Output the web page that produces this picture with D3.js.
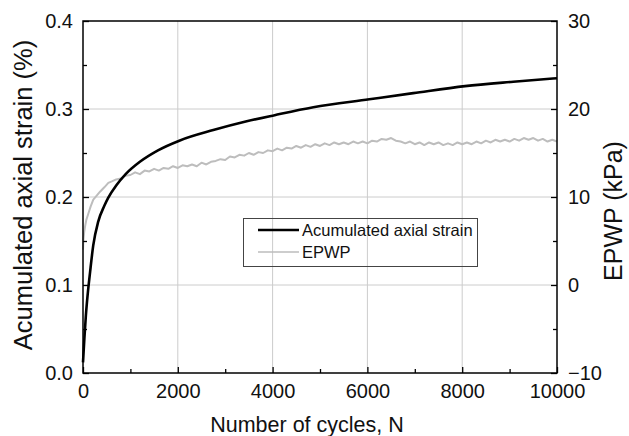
<!DOCTYPE html>
<html>
<head>
<meta charset="utf-8">
<script src="https://cdn.jsdelivr.net/npm/d3@7"></script>
<style>
  html, body { margin: 0; padding: 0; background: #fff; }
  svg { display: block; font-family: "Liberation Sans", Arial, sans-serif; }
</style>
</head>
<body>
<svg id="chart" width="629" height="436"></svg>
<script>
// ---- Data ----
const strainN = [0, 30, 60, 100, 150, 216, 321, 450, 531, 700, 900, 1200, 1582, 2032, 2749, 3454, 4044, 4859, 6040, 6968, 8059, 9078, 10000];
const strainValues = [0.012, 0.040, 0.065, 0.090, 0.115, 0.145, 0.172, 0.190, 0.199, 0.213, 0.226, 0.240, 0.253, 0.264, 0.276, 0.286, 0.293, 0.302, 0.311, 0.318, 0.326, 0.331, 0.335];

const epwpN = [0, 10, 25, 42, 70, 112, 160, 217, 280, 359, 450, 534, 620, 700, 800, 886,
  1000, 1100, 1200, 1300, 1400, 1500, 1600, 1700, 1800, 1900,
  2000, 2100, 2200, 2300, 2400, 2500, 2600, 2700, 2800, 2900,
  3000, 3100, 3200, 3300, 3400, 3500, 3600, 3700, 3800, 3900,
  4000, 4100, 4200, 4300, 4400, 4500, 4600, 4700, 4800, 4900,
  5000, 5100, 5200, 5300, 5400, 5500, 5600, 5700, 5800, 5900,
  6000, 6100, 6200, 6300, 6400, 6500, 6600, 6700, 6800, 6900,
  7000, 7100, 7200, 7300, 7400, 7500, 7600, 7700, 7800, 7900,
  8000, 8100, 8200, 8300, 8400, 8500, 8600, 8700, 8800, 8900,
  9000, 9100, 9200, 9300, 9400, 9500, 9600, 9700, 9800, 9900, 10000];
const epwpValues = [4.0, 5.2, 6.0, 6.6, 7.4, 8.1, 8.9, 9.7, 10.1, 10.6, 11.1, 11.6, 11.8, 12.0, 12.1, 12.4,
  12.5, 12.8, 12.6, 13.0, 12.9, 13.2, 13.0, 13.3, 13.2, 13.5,
  13.3, 13.6, 13.5, 13.7, 13.5, 13.9, 13.7, 14.0, 14.1, 14.3,
  14.2, 14.6, 14.5, 14.8, 14.7, 15.0, 14.8, 15.1, 15.0, 15.3,
  15.2, 15.5, 15.3, 15.6, 15.5, 15.8, 15.6, 15.9, 15.7, 16.0,
  15.8, 16.1, 15.9, 16.2, 16.0, 16.2, 16.0, 16.3, 16.1, 16.3,
  16.1, 16.4, 16.3, 16.6, 16.5, 16.7, 16.4, 16.3, 16.1, 16.3,
  16.0, 16.2, 15.9, 16.2, 16.0, 16.2, 15.9, 16.1, 15.9, 16.2,
  16.0, 16.2, 16.0, 16.3, 16.1, 16.4, 16.2, 16.5, 16.3, 16.5,
  16.3, 16.6, 16.4, 16.7, 16.5, 16.7, 16.4, 16.6, 16.3, 16.5, 16.3];

const xTicks = [0, 2000, 4000, 6000, 8000, 10000];
const xMinorTicks = [1000, 3000, 5000, 7000, 9000];
const yLeftTicks = [0.0, 0.1, 0.2, 0.3, 0.4];
const yLeftMinor = [0.05, 0.15, 0.25, 0.35];
const yRightTicks = [-10, 0, 10, 20, 30];
const yRightMinor = [-5, 5, 15, 25];

const xTitle = "Number of cycles, N";
const yLeftTitle = "Acumulated axial strain (%)";
const yRightTitle = "EPWP (kPa)";
const legendLabels = ["Acumulated axial strain", "EPWP"];

// ---- Layout ----
const W = 629, H = 436;
const m = { left: 83, right: 72, top: 21, bottom: 63 };
const pw = W - m.left - m.right, ph = H - m.top - m.bottom;

const svg = d3.select("#chart");
const g = svg.append("g").attr("transform", `translate(${m.left},${m.top})`);

const x = d3.scaleLinear().domain([0, 10000]).range([0, pw]);
const yL = d3.scaleLinear().domain([0, 0.4]).range([ph, 0]);
const yR = d3.scaleLinear().domain([-10, 30]).range([ph, 0]);

const gridColor = "#cccccc";
// grid
g.append("g").selectAll("line").data(xTicks.slice(1, -1)).join("line")
  .attr("x1", d => x(d)).attr("x2", d => x(d)).attr("y1", 0).attr("y2", ph)
  .attr("stroke", gridColor).attr("stroke-width", 1);
g.append("g").selectAll("line").data(yLeftTicks.slice(1, -1)).join("line")
  .attr("y1", d => yL(d)).attr("y2", d => yL(d)).attr("x1", 0).attr("x2", pw)
  .attr("stroke", gridColor).attr("stroke-width", 1);

// lines
const epwp = epwpN.map((n, i) => [n, epwpValues[i]]);
const strain = strainN.map((n, i) => [n, strainValues[i]]);

g.append("path").datum(epwp)
  .attr("fill", "none").attr("stroke", "#bdbdbd").attr("stroke-width", 2)
  .attr("stroke-linejoin", "round")
  .attr("d", d3.line().x(d => x(d[0])).y(d => yR(d[1])));

g.append("path").datum(strain)
  .attr("fill", "none").attr("stroke", "#000").attr("stroke-width", 2.6)
  .attr("d", d3.line().curve(d3.curveMonotoneX).x(d => x(d[0])).y(d => yL(d[1])));

// axes
const fontTick = "20px";
const axStroke = 1.5;

function styleAxis(sel) {
  sel.select(".domain").remove();
  sel.selectAll(".tick line").attr("stroke", "#000").attr("stroke-width", 1.3);
  sel.selectAll(".tick text").attr("fill", "#111").style("font-size", fontTick);
}

const xAxis = g.append("g").attr("transform", `translate(0,${ph})`)
  .call(d3.axisBottom(x).tickValues(xTicks).tickFormat(d3.format("d")).tickSizeInner(-6).tickPadding(10))
  .call(styleAxis);
xAxis.selectAll(".tick text").attr("dy", "0.71em").attr("y", 11);
g.append("g").attr("transform", `translate(0,${ph})`)
  .call(d3.axisBottom(x).tickValues(xMinorTicks).tickFormat("").tickSizeInner(-4))
  .call(styleAxis);

g.append("g")
  .call(d3.axisLeft(yL).tickValues(yLeftTicks).tickFormat(d3.format(".1f")).tickSizeInner(-6).tickPadding(10))
  .call(styleAxis);
g.append("g")
  .call(d3.axisLeft(yL).tickValues(yLeftMinor).tickFormat("").tickSizeInner(-4))
  .call(styleAxis);

g.append("g").attr("transform", `translate(${pw},0)`)
  .call(d3.axisRight(yR).tickValues(yRightTicks).tickFormat(d3.format("d")).tickSizeInner(-6).tickPadding(11))
  .call(styleAxis);
g.append("g").attr("transform", `translate(${pw},0)`)
  .call(d3.axisRight(yR).tickValues(yRightMinor).tickFormat("").tickSizeInner(-4))
  .call(styleAxis);

// frame
g.append("rect").attr("x", 0).attr("y", 0).attr("width", pw).attr("height", ph)
  .attr("fill", "none").attr("stroke", "#000").attr("stroke-width", axStroke);

// titles
svg.append("text").attr("x", 307).attr("y", 432).attr("text-anchor", "middle")
  .style("font-size", "21.5px").attr("fill", "#111").text(xTitle);
svg.append("text").attr("transform", `translate(32,195) rotate(-90)`).attr("text-anchor", "middle")
  .style("font-size", "25.5px").attr("fill", "#111").text(yLeftTitle);
svg.append("text").attr("transform", `translate(622,211) rotate(-90)`).attr("text-anchor", "middle")
  .style("font-size", "25px").attr("fill", "#111").text(yRightTitle);

// legend
const lg = svg.append("g");
lg.append("rect").attr("x", 243.5).attr("y", 218.5).attr("width", 234).attr("height", 48)
  .attr("fill", "none").attr("stroke", "#444").attr("stroke-width", 1);
const legendItems = [
  { label: legendLabels[0], color: "#000", w: 2.6, y: 230 },
  { label: legendLabels[1], color: "#bdbdbd", w: 1.5, y: 252 }
];
legendItems.forEach(it => {
  lg.append("line").attr("x1", 258).attr("x2", 299).attr("y1", it.y).attr("y2", it.y)
    .attr("stroke", it.color).attr("stroke-width", it.w);
  lg.append("text").attr("x", 302).attr("y", it.y + 6).style("font-size", "16.5px")
    .attr("fill", "#111").text(it.label);
});
</script>
</body>
</html>
